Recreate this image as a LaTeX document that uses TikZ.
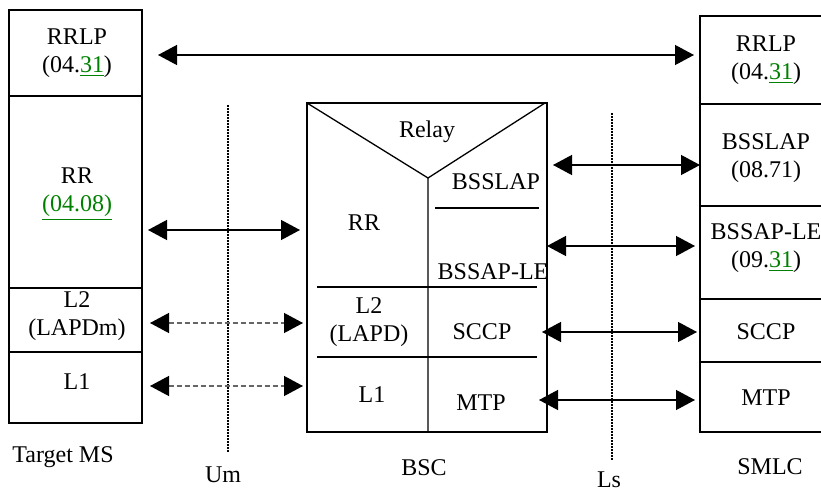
\documentclass[tikz,border=0pt]{standalone}
\usepackage{fontspec}
\setmainfont{Liberation Serif}
\usetikzlibrary{arrows.meta}
\definecolor{linkgreen}{RGB}{0,128,0}
\newcommand{\speclink}[1]{\textcolor{linkgreen}{\underline{#1}}}

\begin{document}
\begin{tikzpicture}[x=0.5pt,y=-0.5pt,line width=0.65pt,
    every node/.style={align=center,inner sep=0pt,font=\fontsize{12}{14}\selectfont},
    peer/.style={{Triangle[length=9.5pt,width=10pt]}-{Triangle[length=9.5pt,width=10pt]}},
    phys/.style={{Triangle[length=9.5pt,width=10pt,color=black]}-{Triangle[length=9.5pt,width=10pt,color=black]},
      draw=black!60,dash pattern=on 2.5pt off 1.5pt},
    iface/.style={line width=1.2pt,dash pattern=on 1pt off 0.5pt}]
  \useasboundingbox (0,0) rectangle (821,492);
  % target MS
  \draw (9,10) rectangle (142,423);
  \draw (9,96) -- (142,96) (9,288) -- (142,288) (9,352) -- (142,352);
  \draw
    (77,53) node (msrrlp){RRLP\\(04.\speclink{31})}
    (77,194) node (msrr){RR\\\speclink{(04.08)}}
    (77,316) node (msl2){L2\\(LAPDm)}
    (77,382) node (msl1){L1}
    (63,457) node (ms){Target MS};
  % BSC
  \draw (307,103) rectangle (547,432);
  \draw (307,103) -- (428,178) -- (545,103) (428,178) -- (428,432);
  \draw (435,208) -- (539,208) (317,287) -- (537,287) (317,357) -- (537,357);
  \draw
    (427,132) node (relay){Relay}
    (496,182) node (bscbsslap){BSSLAP}
    (364,223) node (bscrr){RR}
    (493,272) node (bscbssap){BSSAP-LE}
    (369,322) node (bscl2){L2\\(LAPD)}
    (482,332) node (bscsccp){SCCP}
    (372,395) node (bscl1){L1}
    (481,403) node (bscmtp){MTP}
    (424,468) node (bsc){BSC};
  % SMLC
  \draw (821,16) -- (700,16) -- (700,432) -- (821,432);
  \draw (700,104) -- (821,104) (700,206) -- (821,206) (700,299) -- (821,299) (700,362) -- (821,362);
  \draw
    (766,60) node (smrrlp){RRLP\\(04.\speclink{31})}
    (766,158) node (smbsslap){BSSLAP\\(08.71)}
    (766,248) node (smbssap){BSSAP-LE\\(09.\speclink{31})}
    (766,332) node (smsccp){SCCP}
    (766,398) node (smmtp){MTP}
    (770,467) node (smlc){SMLC};
  % interfaces
  \coordinate (umtop) at (228,105);
  \coordinate (umbot) at (228,452);
  \coordinate (lstop) at (612,113);
  \coordinate (lsbot) at (612,460);
  \draw[iface] (umtop) -- (umbot);
  \draw[iface] (lstop) -- (lsbot);
  \draw (223,475) node (um){Um} (609,480) node (ls){Ls};
  % peer links
  \coordinate (a1) at (158,55);  \coordinate (b1) at (694,55);
  \coordinate (a2) at (148,230); \coordinate (b2) at (300,230);
  \coordinate (a3) at (150,323); \coordinate (b3) at (303,323);
  \coordinate (a4) at (150,386); \coordinate (b4) at (303,386);
  \coordinate (a5) at (553,165); \coordinate (b5) at (700,165);
  \coordinate (a6) at (547,246); \coordinate (b6) at (695,246);
  \coordinate (a7) at (542,332); \coordinate (b7) at (697,332);
  \coordinate (a8) at (539,400); \coordinate (b8) at (695,400);
  \begin{scope}[peer]
    \draw (a1) to (b1);
    \draw (a2) to (b2);
    \draw (a5) to (b5);
    \draw (a6) to (b6);
    \draw (a7) to (b7);
    \draw (a8) to (b8);
  \end{scope}
  \draw[phys] (a3) to (b3);
  \draw[phys] (a4) to (b4);
\end{tikzpicture}
\end{document}
